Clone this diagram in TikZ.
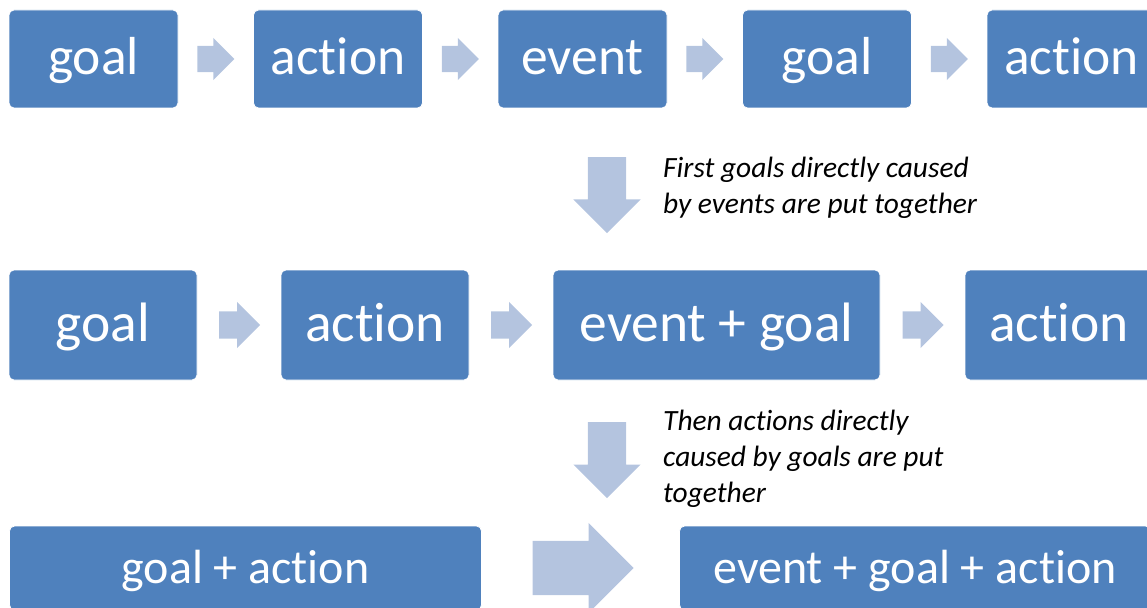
\documentclass[tikz,border=0pt]{standalone}
\usepackage{fontspec}
\setmainfont{Carlito}[Ligatures=CommonOff]
\usetikzlibrary{shapes.arrows,positioning,calc}
\definecolor{boxblue}{RGB}{79,129,189}
\definecolor{arrblue}{RGB}{180,196,223}

\begin{document}
\begin{tikzpicture}[x=1pt,y=-1pt,
    box/.style={rectangle,rounded corners=5pt,fill=boxblue,draw=white,line width=0.8pt,
      text=white,inner sep=0pt,outer sep=0pt},
    row1/.style={box,minimum width=169pt,minimum height=98pt,text height=42pt,text depth=10pt,
      font=\fontsize{53.5}{53.5}\selectfont},
    row2/.style={box,minimum width=188pt,minimum height=110pt,text height=44pt,text depth=12pt,
      font=\fontsize{55.5}{55.5}\selectfont},
    row3/.style={box,minimum width=472pt,minimum height=84pt,text height=38pt,text depth=8pt,
      font=\fontsize{48}{48}\selectfont},
    blk/.style={single arrow,fill=arrblue,draw=none,inner xsep=0pt,single arrow tip angle=90,anchor=tail},
    arr1/.style={blk,minimum height=37pt,inner ysep=13pt,single arrow head extend=8pt,xshift=-18.5pt},
    arr2/.style={blk,minimum height=41pt,inner ysep=13.5pt,single arrow head extend=9.5pt,xshift=-20pt},
    arr3/.style={blk,minimum height=101pt,inner ysep=27pt,single arrow head extend=18pt,xshift=-48pt},
    down/.style={blk,minimum height=76pt,inner ysep=19pt,single arrow head extend=14.5pt,rotate=-90},
    note/.style={align=left,anchor=north west,inner sep=0pt,font=\itshape\fontsize{29.4}{36}\selectfont}]

\useasboundingbox (0,0) rectangle (1147,607);

% first chain
\node [row1] (a) at (93.5,59) {goal};
\node [row1,right=75.5pt of a] (b) {action};
\node [row1,right=75.5pt of b] (c) {event};
\node [row1,right=75.5pt of c] (d) {goal};
\node [row1,right=75.5pt of d] (e) {action};
\foreach \p/\q in {a/b,b/c,c/d,d/e}
  \node [arr1] at ($(\p.east)!.5!(\q.west)$) {};

% events merged with goals
\node [down] (s1) at (607,157) {};
\node [note] (n1) at (663,157) {First goals directly caused\\by events are put together};

\node [row2] (f) at (103,325) {goal};
\node [row2,right=84pt of f] (g) {action};
\node [row2,minimum width=327pt,right=84pt of g] (h) {event + goal};
\node [row2,right=85pt of h] (i) {action};
\foreach \p/\q in {f/g,g/h,h/i}
  \node [arr2] at ($(\p.east)!.5!(\q.west)$) {};

% goals merged with actions
\node [down] (s2) at (607,422) {};
\node [note] (n2) at (663,410) {Then actions directly\\caused by goals are put\\together};

\node [row3] (j) at (245.5,568) {goal + action};
\node [row3,minimum width=471pt,right=198pt of j] (k) {event + goal + action};
\node [arr3] at ($(j.east)!.5!(k.west)$) {};
\end{tikzpicture}
\end{document}
